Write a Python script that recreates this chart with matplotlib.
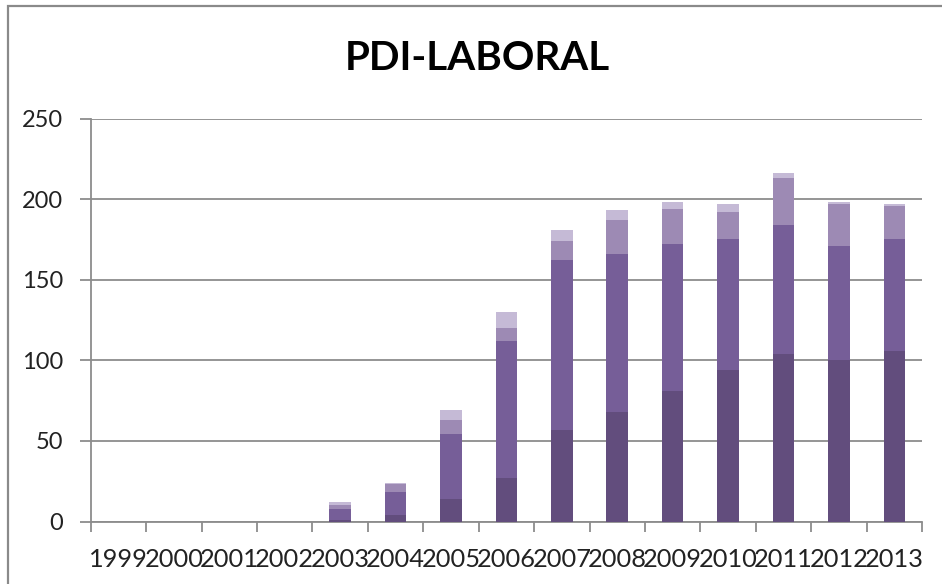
import matplotlib
matplotlib.use("Agg")
import matplotlib.pyplot as plt
import numpy as np
from matplotlib.patches import Rectangle

years = ["1999", "2000", "2001", "2002", "2003", "2004", "2005", "2006",
         "2007", "2008", "2009", "2010", "2011", "2012", "2013"]

# Stacked series, bottom to top
serie_1 = [0, 0, 0, 0, 1, 4, 14, 27, 57, 68, 81, 94, 104, 100, 106]
serie_2 = [0, 0, 0, 0, 7, 14, 40, 85, 105, 98, 91, 81, 80, 71, 69]
serie_3 = [0, 0, 0, 0, 2, 5, 9, 8, 12, 21, 22, 17, 29, 26, 21]
serie_4 = [0, 0, 0, 0, 2, 1, 6, 10, 7, 6, 4, 5, 3, 1, 1]

y_ticks = [0, 50, 100, 150, 200, 250]

colors = ["#624d7d", "#765e98", "#9d8ab4", "#c5bad6"]

plt.rcParams["font.family"] = ["Lato", "DejaVu Sans"]

fig = plt.figure(figsize=(9.42, 5.84), dpi=100)
fig.patch.set_facecolor("white")

# chart frame
fig.patches.append(Rectangle((7.5 / 942, -0.05), 1.2, 1.05 - 5.5 / 584,
                             transform=fig.transFigure, fill=False,
                             edgecolor="#8a8a8a", linewidth=1.6))

ax = fig.add_axes([0.0963, 0.107, 0.8825, 0.690])

x = np.arange(len(years))
bottom = np.zeros(len(years))
for vals, c in zip([serie_1, serie_2, serie_3, serie_4], colors):
    v = np.array(vals, dtype=float)
    ax.bar(x, v, width=0.39, bottom=bottom, color=c, edgecolor="none", zorder=3)
    bottom += v

ax.set_xlim(-0.5, len(years) - 0.5)
ax.set_ylim(0, 250)
ax.set_yticks(y_ticks)
ax.set_yticklabels([str(t) for t in y_ticks], fontsize=17, color="#222222")
ax.yaxis.grid(True, color="#8c8c8c", linewidth=1.3, zorder=0)
ax.set_axisbelow(True)

ax.set_xticks(x)
ax.set_xticklabels(years, fontsize=18.3, color="#222222")
ax.set_xticks(np.arange(len(years) + 1) - 0.5, minor=True)
ax.tick_params(axis="x", which="major", length=0, pad=19)
ax.tick_params(axis="x", which="minor", length=7, color="#8c8c8c", width=1.3)
ax.tick_params(axis="y", length=8, color="#8c8c8c", width=1.3, pad=12)

for s in ["top", "right"]:
    ax.spines[s].set_visible(False)
for s in ["left", "bottom"]:
    ax.spines[s].set_color("#8c8c8c")
    ax.spines[s].set_linewidth(1.3)

fig.text(0.507, 0.899, "PDI-LABORAL", ha="center", va="center",
         fontsize=29, fontweight="bold", color="black")

fig.savefig("out.png", dpi=100, facecolor="white")
